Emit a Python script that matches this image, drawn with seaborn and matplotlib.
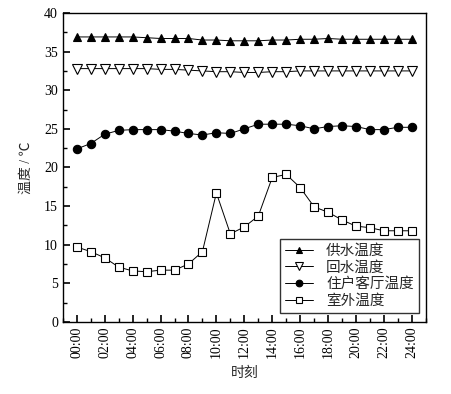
import matplotlib
matplotlib.use("Agg")
import matplotlib.pyplot as plt
from matplotlib.ticker import MultipleLocator
import seaborn as sns
import pandas as pd

hours = list(range(25))
tick_labels = [f"{h:02d}:00" for h in range(0, 25, 2)]

supply = [36.9, 36.9, 36.9, 36.9, 36.9, 36.8, 36.7, 36.7, 36.7, 36.5, 36.5, 36.4, 36.4,
          36.4, 36.5, 36.5, 36.6, 36.6, 36.7, 36.6, 36.6, 36.6, 36.6, 36.6, 36.6]
back = [32.8, 32.8, 32.8, 32.8, 32.8, 32.8, 32.7, 32.7, 32.6, 32.5, 32.4, 32.4, 32.3,
        32.3, 32.4, 32.4, 32.5, 32.5, 32.5, 32.5, 32.5, 32.5, 32.5, 32.5, 32.5]
indoor = [22.4, 23.1, 24.3, 24.8, 24.9, 24.9, 24.9, 24.7, 24.4, 24.2, 24.5, 24.4, 25.0,
          25.6, 25.6, 25.6, 25.4, 25.0, 25.3, 25.4, 25.3, 24.9, 24.9, 25.2, 25.2]
outdoor = [9.7, 9.1, 8.3, 7.1, 6.6, 6.5, 6.7, 6.7, 7.5, 9.1, 16.7, 11.4, 12.3,
           13.7, 18.7, 19.1, 17.4, 14.9, 14.2, 13.2, 12.4, 12.2, 11.8, 11.8, 11.8]

series_names = ["供水温度", "回水温度", "住户客厅温度", "室外温度"]

sns.set_style("ticks")
plt.rcParams['font.family'] = ['Liberation Serif', 'Noto Sans CJK SC']
plt.rcParams['axes.unicode_minus'] = False

fig = plt.figure(figsize=(4.52, 3.94), dpi=100)
ax = fig.add_axes([0.139, 0.183, 0.803, 0.784])

styles = [
    dict(marker="^", mfc="black", ms=6),
    dict(marker="v", mfc="white", ms=6.5),
    dict(marker="o", mfc="black", ms=6),
    dict(marker="s", mfc="white", ms=5.5),
]
for name, vals, st in zip(series_names, [supply, back, indoor, outdoor], styles):
    df = pd.DataFrame({"hour": hours, "temp": vals})
    sns.lineplot(data=df, x="hour", y="temp", ax=ax, color="black", linewidth=0.7,
                 marker=st["marker"], markersize=st["ms"], markerfacecolor=st["mfc"],
                 markeredgecolor="black", markeredgewidth=0.8, label=name)

ax.set_xlim(-1, 25)
ax.set_ylim(0, 40)
ax.set_xticks(range(0, 25, 2))
ax.set_xticklabels(tick_labels, rotation=90)
ax.xaxis.set_minor_locator(MultipleLocator(1))
ax.yaxis.set_major_locator(MultipleLocator(5))
ax.yaxis.set_minor_locator(MultipleLocator(2.5))
ax.tick_params(which="both", direction="in", labelsize=10, colors="black")
ax.tick_params(which="major", length=5, width=1.2)
ax.tick_params(which="minor", length=3, width=1.0)
for s in ax.spines.values():
    s.set_visible(True)
    s.set_linewidth(1.0)
    s.set_color("black")

ax.set_xlabel("时刻", fontsize=10, labelpad=6)
ax.set_ylabel("温度 / ℃", fontsize=10, labelpad=8)

leg = ax.legend(loc="lower right", frameon=True, fancybox=False, fontsize=10.5,
                handlelength=1.9, handletextpad=0.9, borderpad=0.35, labelspacing=0.2,
                markerscale=0.8, borderaxespad=0, bbox_to_anchor=(0.981, 0.029))
leg.get_frame().set_edgecolor("black")
leg.get_frame().set_linewidth(1.0)

fig.savefig("out.png", dpi=100)
